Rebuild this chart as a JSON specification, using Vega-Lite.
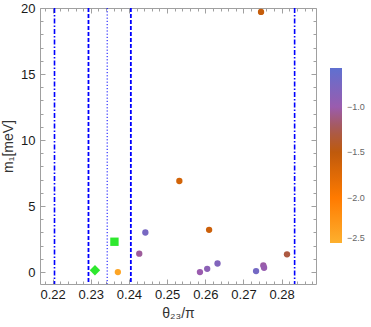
{
  "$schema": "https://vega.github.io/schema/vega-lite/v6.json",
  "width": 276,
  "height": 276,
  "autosize": {"type": "none"},
  "padding": {"left": 40, "top": 8, "right": 55, "bottom": 43},
  "background": "white",
  "config": {
    "view": {"stroke": "#a0a0a0", "strokeWidth": 1},
    "axis": {
      "grid": false,
      "domain": false,
      "labelFont": "Liberation Sans",
      "labelFontSize": 13,
      "labelColor": "#1a1a1a",
      "tickColor": "#a0a0a0",
      "tickWidth": 1,
      "titleFont": "Liberation Sans",
      "titleFontSize": 14,
      "titleFontWeight": "normal",
      "titleColor": "#333333"
    }
  },
  "datasets": {
    "pts": [
      {"theta": 0.2371, "m1": 0.0, "c": -2.4},
      {"theta": 0.2427, "m1": 1.4, "c": -1.05},
      {"theta": 0.2443, "m1": 3.0, "c": -0.75},
      {"theta": 0.2532, "m1": 6.9, "c": -1.65},
      {"theta": 0.2586, "m1": 0.0, "c": -1.0},
      {"theta": 0.2605, "m1": 0.25, "c": -0.9},
      {"theta": 0.2610, "m1": 3.2, "c": -1.6},
      {"theta": 0.2632, "m1": 0.65, "c": -0.82},
      {"theta": 0.2733, "m1": 0.08, "c": -0.72},
      {"theta": 0.2752, "m1": 0.5, "c": -1.02},
      {"theta": 0.2754, "m1": 0.33, "c": -0.98},
      {"theta": 0.2814, "m1": 1.35, "c": -1.3},
      {"theta": 0.2746, "m1": 19.7, "c": -1.55}
    ],
    "marks": [
      {"theta": 0.2311, "m1": 0.15, "kind": "diamond"},
      {"theta": 0.2362, "m1": 2.3, "kind": "square"}
    ],
    "lines": [
      {"theta": 0.2205, "kind": "dashdot"},
      {"theta": 0.2834, "kind": "dashdot"},
      {"theta": 0.2294, "kind": "dashed"},
      {"theta": 0.2405, "kind": "dashed"},
      {"theta": 0.2343, "kind": "dotted"}
    ]
  },
  "layer": [
    {
      "data": {"name": "lines"},
      "transform": [{"filter": "datum.kind === 'dashdot'"}],
      "mark": {"type": "rule", "color": "#0000ff", "strokeWidth": 1.6, "strokeDash": [5, 2, 1.5, 2]},
      "encoding": {
        "x": {"field": "theta", "type": "quantitative", "scale": {"domain": [0.2167, 0.289], "nice": false, "zero": false}, "axis": null}
      }
    },
    {
      "data": {"name": "lines"},
      "transform": [{"filter": "datum.kind === 'dashed'"}],
      "mark": {"type": "rule", "color": "#0000ff", "strokeWidth": 1.8, "strokeDash": [4, 2]},
      "encoding": {
        "x": {"field": "theta", "type": "quantitative", "axis": null}
      }
    },
    {
      "data": {"name": "lines"},
      "transform": [{"filter": "datum.kind === 'dotted'"}],
      "mark": {"type": "rule", "color": "#0000ff", "strokeWidth": 1, "strokeDash": [1.2, 2]},
      "encoding": {
        "x": {"field": "theta", "type": "quantitative", "axis": null}
      }
    },
    {
      "data": {"name": "pts"},
      "mark": {"type": "circle", "size": 40, "opacity": 1},
      "encoding": {
        "x": {"field": "theta", "type": "quantitative",
          "axis": {"orient": "top", "labels": false, "title": null,
            "values": [0.218,0.22,0.222,0.224,0.226,0.228,0.23,0.232,0.234,0.236,0.238,0.24,0.242,0.244,0.246,0.248,0.25,0.252,0.254,0.256,0.258,0.26,0.262,0.264,0.266,0.268,0.27,0.272,0.274,0.276,0.278,0.28,0.282,0.284,0.286,0.288],
            "tickSize": {"condition": {"test": "abs(datum.value*100 - round(datum.value*100)) < 0.01", "value": -5}, "value": -3}}},
        "y": {"field": "m1", "type": "quantitative", "scale": {"domain": [-0.9, 20], "nice": false, "zero": false},
          "axis": {"orient": "left", "title": "m₁[meV]", "titlePadding": 5,
            "values": [0,1,2,3,4,5,6,7,8,9,10,11,12,13,14,15,16,17,18,19,20],
            "labelExpr": "datum.value % 5 === 0 ? datum.label : ''",
            "labelPadding": 10,
            "tickSize": {"condition": {"test": "datum.value % 5 === 0", "value": -5}, "value": -3}}},
        "color": {"field": "c", "type": "quantitative",
          "scale": {"domain": [-2.5, -2.0, -1.5, -1.25, -1.0, -0.57], "range": ["#fdb02e", "#ff7a00", "#bf5a0c", "#a85a50", "#9a5cae", "#5f70d0"], "interpolate": "rgb"},
          "legend": {"orient": "none", "legendX": 290, "legendY": 60, "direction": "vertical", "title": null,
            "gradientLength": 175, "gradientThickness": 12, "gradientStrokeWidth": 0,
            "values": [-2.5, -2.0, -1.5, -1.0], "format": ".1f",
            "labelFont": "Liberation Sans", "labelFontSize": 9, "labelColor": "#666666", "labelOffset": 5}}
      }
    },
    {
      "data": {"name": "marks"},
      "mark": {"type": "point", "filled": true, "opacity": 1, "color": "#2ee82e"},
      "encoding": {
        "x": {"field": "theta", "type": "quantitative",
          "axis": {"orient": "bottom", "title": "θ₂₃/π", "titlePadding": 5,
            "values": [0.218,0.22,0.222,0.224,0.226,0.228,0.23,0.232,0.234,0.236,0.238,0.24,0.242,0.244,0.246,0.248,0.25,0.252,0.254,0.256,0.258,0.26,0.262,0.264,0.266,0.268,0.27,0.272,0.274,0.276,0.278,0.28,0.282,0.284,0.286,0.288],
            "labelExpr": "abs(datum.value*100 - round(datum.value*100)) < 0.01 ? format(datum.value, '.2f') : ''",
            "labelPadding": 9,
            "tickSize": {"condition": {"test": "abs(datum.value*100 - round(datum.value*100)) < 0.01", "value": -5}, "value": -3}}},
        "y": {"field": "m1", "type": "quantitative",
          "axis": {"orient": "right", "labels": false, "title": null,
            "values": [0,1,2,3,4,5,6,7,8,9,10,11,12,13,14,15,16,17,18,19,20],
            "tickSize": {"condition": {"test": "datum.value % 5 === 0", "value": -5}, "value": -3}}},
        "shape": {"field": "kind", "type": "nominal", "scale": {"domain": ["diamond", "square"], "range": ["diamond", "square"]}, "legend": null},
        "size": {"field": "kind", "type": "nominal", "scale": {"domain": ["diamond", "square"], "range": [110, 70]}, "legend": null}
      }
    }
  ]
}
